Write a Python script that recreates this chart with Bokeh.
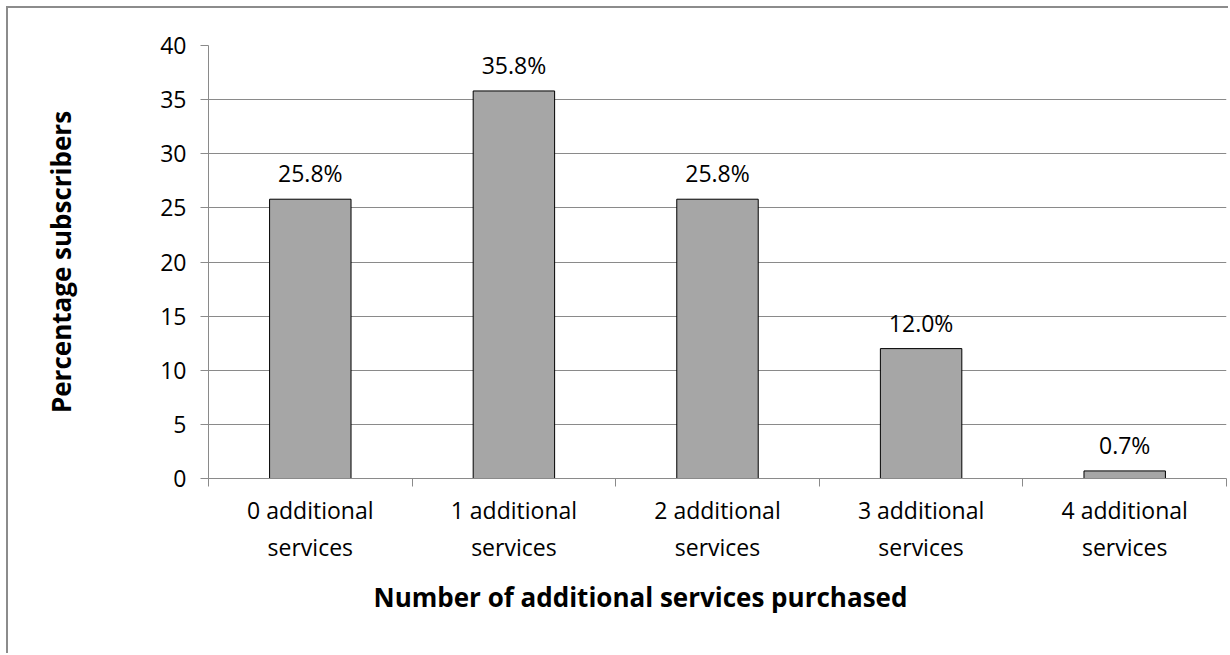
from bokeh.plotting import figure
from bokeh.models import Range1d, FixedTicker, LinearAxis, ColumnDataSource, Title
from bokeh.core.properties import value
from bokeh.embed import file_html
from bokeh.resources import INLINE

categories_line1 = ["0 additional", "1 additional", "2 additional", "3 additional", "4 additional"]
categories_line2 = ["services", "services", "services", "services", "services"]
percentages = [25.8, 35.8, 25.8, 12.0, 0.7]
y_ticks = [0, 5, 10, 15, 20, 25, 30, 35, 40]

FONT = "Open Sans"
GRID = "#8a8a8a"

xpos = [i + 0.5 for i in range(len(percentages))]
src = ColumnDataSource(dict(
    x=xpos, top=percentages,
    lab=["%.1f%%" % v for v in percentages],
))

p = figure(width=1222, height=647, output_backend="svg", toolbar_location=None,
           x_range=Range1d(0, len(percentages)), y_range=Range1d(0, 40),
           min_border_left=200, min_border_right=4, min_border_top=37, min_border_bottom=177,
           x_axis_location=None)
p.styles = {"margin-left": "6px", "margin-top": "6px",
            "border-left": "2px solid #8c8c8c", "border-top": "2px solid #8c8c8c"}
p.outline_line_color = None
p.background_fill_color = "white"
p.border_fill_color = "white"

p.xgrid.grid_line_color = None
p.ygrid.grid_line_color = GRID
p.ygrid.grid_line_width = 1
p.ygrid.ticker = FixedTicker(ticks=y_ticks)

p.vbar(x="x", top="top", width=0.4, bottom=0, source=src,
       fill_color="#a6a6a6", line_color="black", line_width=1)
p.text(x="x", y="top", text="lab", source=src, text_align="center",
       text_baseline="middle", y_offset=-26, text_font=value(FONT),
       text_font_size="23px", text_color="black")

# y axis
ya = p.yaxis[0]
ya.ticker = FixedTicker(ticks=y_ticks)
ya.axis_line_color = GRID
ya.major_tick_line_color = GRID
ya.major_tick_out = 8
ya.major_tick_in = 0
ya.minor_tick_line_color = None
ya.major_label_text_font = FONT
ya.major_label_text_font_size = "23px"
ya.major_label_text_color = "black"
ya.major_label_standoff = 14
ya.axis_label = "Percentage subscribers"
ya.axis_label_text_font = FONT
ya.axis_label_text_font_style = "bold"
ya.axis_label_text_font_size = "26px"
ya.axis_label_text_color = "black"
ya.axis_label_standoff = 78

# x axis 1: boundary ticks + first label line
xa1 = LinearAxis(ticker=FixedTicker(ticks=xpos, minor_ticks=list(range(len(percentages) + 1))))
xa1.major_label_overrides = {x: t for x, t in zip(xpos, categories_line1)}
xa1.axis_line_color = GRID
xa1.major_tick_line_color = None
xa1.major_tick_out = 0
xa1.major_tick_in = 0
xa1.minor_tick_line_color = GRID
xa1.minor_tick_out = 8
xa1.minor_tick_in = 0
xa1.major_label_text_font = FONT
xa1.major_label_text_font_size = "23px"
xa1.major_label_text_color = "black"
xa1.major_label_standoff = 7
p.add_layout(xa1, "below")

# x axis 2: second label line
xa2 = LinearAxis(ticker=FixedTicker(ticks=xpos))
xa2.major_label_overrides = {x: t for x, t in zip(xpos, categories_line2)}
xa2.axis_line_color = None
xa2.major_tick_line_color = None
xa2.major_tick_out = 0
xa2.major_tick_in = 0
xa2.minor_tick_line_color = None
xa2.major_label_text_font = FONT
xa2.major_label_text_font_size = "23px"
xa2.major_label_text_color = "black"
xa2.major_label_standoff = 2
p.add_layout(xa2, "below")

xtitle = Title(text="Number of additional services purchased", align="left", offset=165,
               text_font=FONT, text_font_style="bold", text_font_size="26px",
               text_color="black", standoff=22)
p.add_layout(xtitle, "below")

open("out.html", "w").write(file_html(p, INLINE))
